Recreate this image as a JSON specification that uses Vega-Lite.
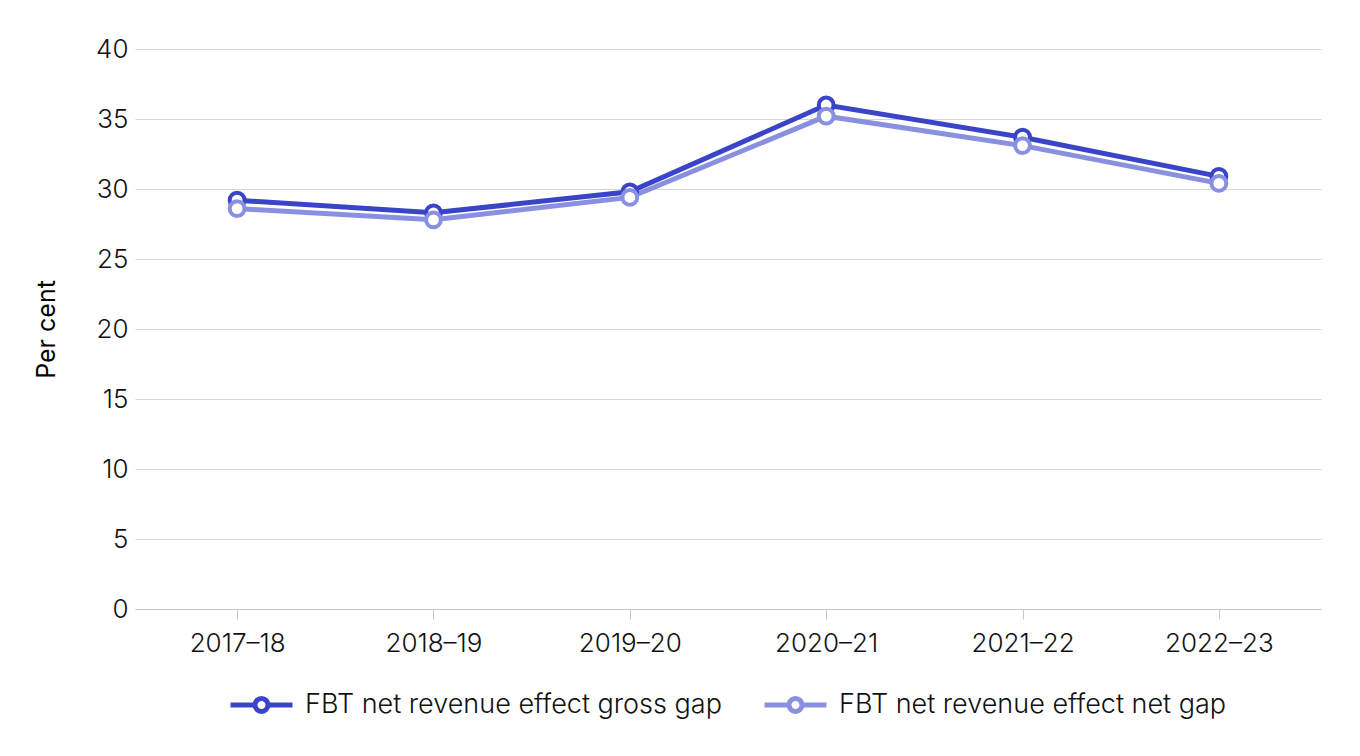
{
  "$schema": "https://vega.github.io/schema/vega-lite/v6.json",
  "width": 1186,
  "height": 560,
  "autosize": "none",
  "padding": {"left": 135, "top": 49, "right": 39, "bottom": 147},
  "background": "white",
  "config": {
    "font": "Inter",
    "view": {"stroke": null},
    "axis": {"labelFont": "Inter", "titleFont": "Inter", "labelColor": "#111111", "titleColor": "#000000"}
  },
  "data": {
    "values": [
      {"year": "2017–18", "series": "FBT net revenue effect gross gap", "value": 29.2},
      {"year": "2018–19", "series": "FBT net revenue effect gross gap", "value": 28.3},
      {"year": "2019–20", "series": "FBT net revenue effect gross gap", "value": 29.8},
      {"year": "2020–21", "series": "FBT net revenue effect gross gap", "value": 36.0},
      {"year": "2021–22", "series": "FBT net revenue effect gross gap", "value": 33.7},
      {"year": "2022–23", "series": "FBT net revenue effect gross gap", "value": 30.9},
      {"year": "2017–18", "series": "FBT net revenue effect net gap", "value": 28.6},
      {"year": "2018–19", "series": "FBT net revenue effect net gap", "value": 27.8},
      {"year": "2019–20", "series": "FBT net revenue effect net gap", "value": 29.4},
      {"year": "2020–21", "series": "FBT net revenue effect net gap", "value": 35.2},
      {"year": "2021–22", "series": "FBT net revenue effect net gap", "value": 33.1},
      {"year": "2022–23", "series": "FBT net revenue effect net gap", "value": 30.4}
    ]
  },
  "encoding": {
    "x": {
      "field": "year", "type": "ordinal", "sort": null,
      "scale": {"type": "point", "padding": 0.52},
      "axis": {
        "title": null, "labelAngle": 0, "labelFontSize": 26, "labelFontWeight": 300, "labelPadding": 11,
        "domainColor": "#c8c8c8", "tickColor": "#c8c8c8", "tickSize": 10, "grid": false
      }
    },
    "y": {
      "field": "value", "type": "quantitative",
      "scale": {"domain": [0, 40]},
      "axis": {
        "title": "Per cent", "titleFontSize": 25, "titleFontWeight": 400, "titlePadding": 36,
        "labelFontSize": 26, "labelFontWeight": 300, "labelPadding": 7, "values": [0, 5, 10, 15, 20, 25, 30, 35, 40],
        "domain": false, "ticks": false, "gridColor": "#d6d6d6", "gridWidth": 1
      }
    },
    "color": {
      "field": "series", "type": "nominal",
      "scale": {
        "domain": ["FBT net revenue effect gross gap", "FBT net revenue effect net gap"],
        "range": ["#3a44c8", "#8a90e0"]
      },
      "legend": {
        "title": null, "orient": "none", "direction": "horizontal",
        "legendX": 93, "legendY": 622,
        "labelFontSize": 27, "labelFontWeight": 300, "labelFont": "Inter", "labelColor": "#111111", "labelOffset": 10,
        "labelLimit": 0, "columnPadding": 32,
        "symbolType": "M-1,0L-0.21,0M0.21,0A0.21,0.21 0 1,1 -0.21,0A0.21,0.21 0 1,1 0.21,0M0.21,0L1,0",
        "symbolSize": 3844, "symbolStrokeWidth": 5,
        "encode": {"symbols": {"update": {"fill": {"value": "white"}, "fillOpacity": {"value": 1}}}}
      }
    }
  },
  "layer": [
    {"mark": {"type": "line", "strokeWidth": 5}},
    {"mark": {"type": "point", "shape": "circle", "filled": false, "fill": "white", "fillOpacity": 1, "strokeWidth": 4, "size": 220, "opacity": 1}}
  ]
}
